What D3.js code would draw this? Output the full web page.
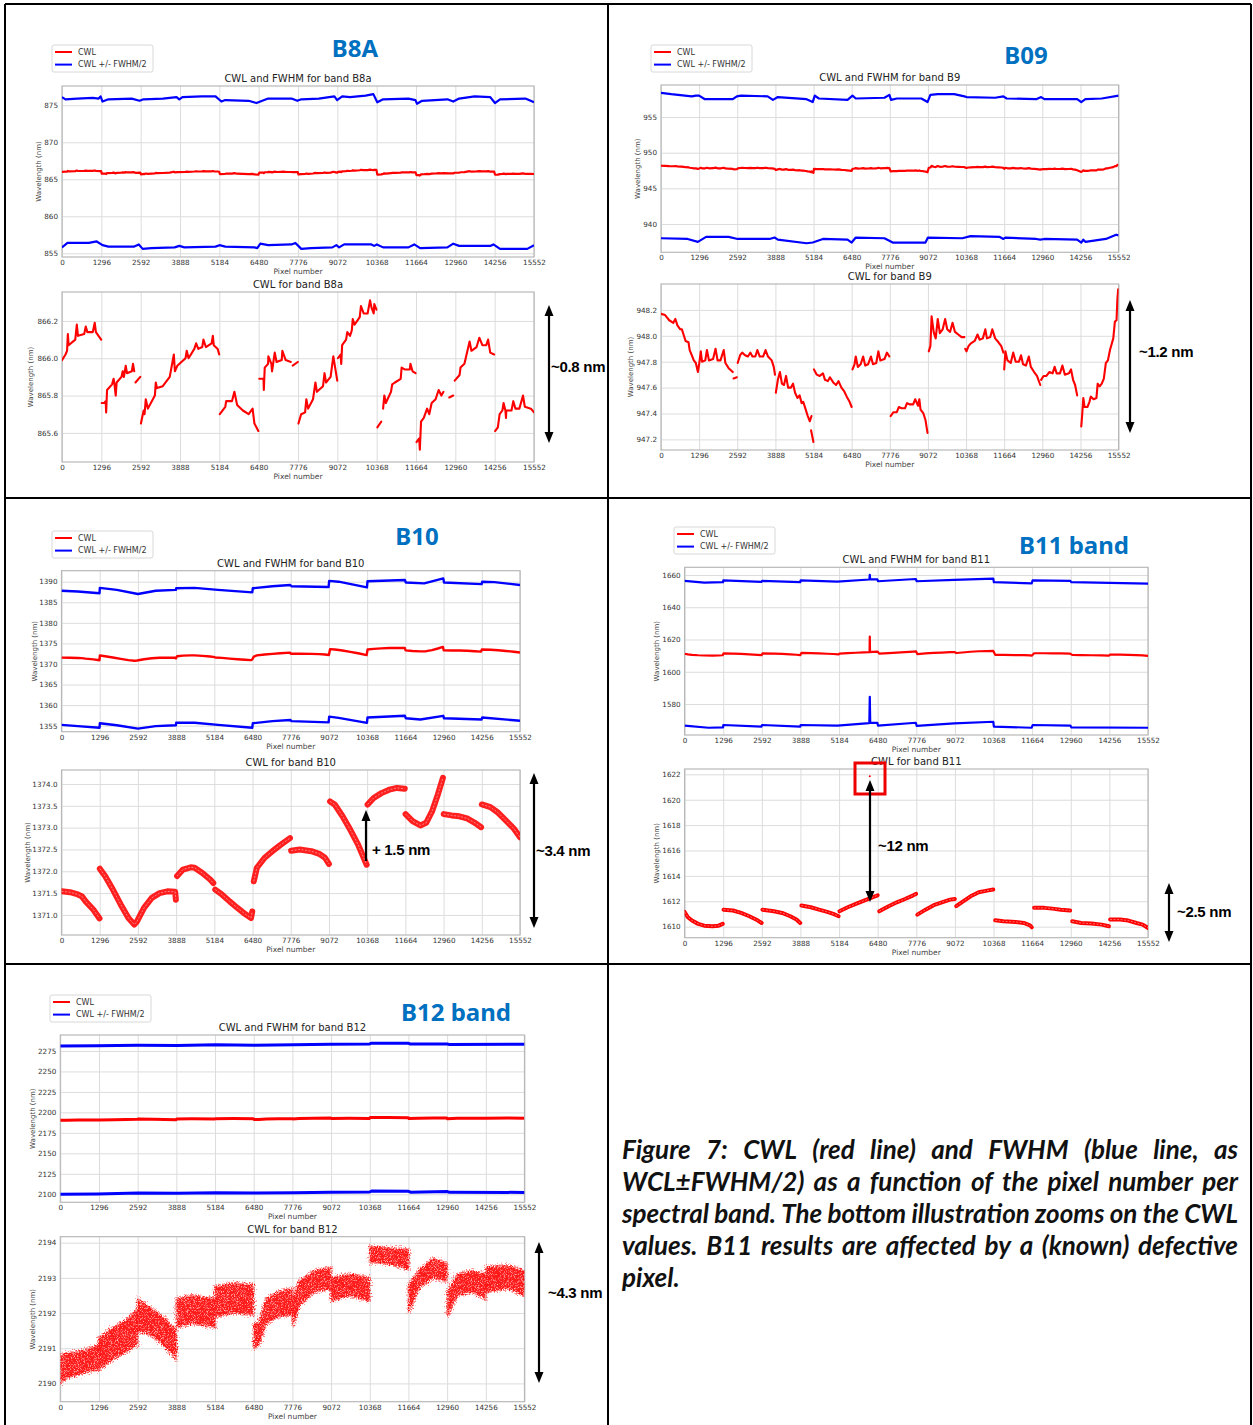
<!DOCTYPE html>
<html>
<head>
<meta charset="utf-8">
<script src="https://cdnjs.cloudflare.com/ajax/libs/d3/7.8.5/d3.min.js"></script>
<style>
  body { margin: 0; background: #fff; }
</style>
</head>
<body>
<svg id="fig" width="1253" height="1425"></svg>
<script>
// ---------- data ----------
const pixelTicks = d3.range(0, 15553, 1296);

// B8A
const b8aTopTicks = [855, 860, 865, 870, 875];
const b8aZoomTicks = [865.6, 865.8, 866.0, 866.2];
const b8aUpper = [[0,876.1],[116,875.8],[501,875.9],[1014,876.0],[1207,875.9],[1271,876.2],[1335,875.5],[1528,875.8],[2298,875.9],[2555,875.6],[2684,875.8],[3326,875.9],[3775,876.1],[3865,875.8],[3968,876.1],[4610,876.2],[5059,876.2],[5252,875.5],[5380,875.7],[6150,875.6],[6407,875.3],[6600,875.6],[6792,875.9],[7563,875.9],[7755,875.6],[7884,875.8],[8462,875.9],[8975,876.2],[9065,875.7],[9232,876.2],[9489,876.1],[10002,876.3],[10259,876.5],[10388,875.4],[10580,875.8],[11415,875.9],[11646,875.7],[11697,875.2],[11864,875.6],[12699,875.8],[12891,875.5],[13084,875.9],[13598,876.2],[14111,876.1],[14265,875.3],[14432,875.8],[15267,875.9],[15552,875.4]];
const b8aLower = [[0,855.8],[180,856.4],[886,856.4],[1143,856.6],[1335,856.1],[1528,855.9],[2363,855.9],[2530,856.2],[2658,855.6],[2940,855.7],[3711,855.8],[3865,856.0],[4032,855.8],[5059,855.9],[5187,856.1],[5380,855.9],[6343,855.8],[6433,855.7],[6536,856.3],[6792,856.1],[7563,856.2],[7691,856.4],[7884,855.6],[8205,855.7],[8911,855.8],[9039,856.1],[9129,855.8],[9296,856.2],[10195,856.2],[10285,856.0],[10375,856.2],[10580,855.8],[11415,855.8],[11607,856.2],[11800,855.7],[12699,855.8],[12891,856.3],[13084,856.0],[14111,856.0],[14214,856.2],[14432,855.6],[15331,855.6],[15552,856.1]];
const b8aCwl = [
  [[0,865.99],[116,866.02],[167,866.04],[193,866.13],[218,866.07],[437,866.10],[488,866.18],[526,866.12],[732,866.13],[783,866.17],[835,866.14],[1014,866.14],[1079,866.19],[1117,866.14],[1290,866.10]],
  [[1310,865.76],[1390,865.76],[1440,865.77],[1455,865.71],[1470,865.77],[1485,865.83],[1650,865.86],[1700,865.89],[1730,865.86],[1770,865.80],[1800,865.87],[1960,865.90],[2000,865.93],[2040,865.90],[2100,865.96],[2140,865.92],[2300,865.93],[2340,865.97],[2380,865.93]],
  [[2420,865.87],[2580,865.90]],
  [[2600,865.65],[2690,865.72],[2720,865.70],[2760,865.78],[2830,865.73],[3060,865.80],[3090,865.87],[3130,865.84],[3320,865.85],[3550,865.90],[3685,866.02],[3720,865.93],[3800,865.96],[4070,866.00],[4110,866.04],[4170,866.00],[4360,866.05],[4420,866.08],[4490,866.05],[4620,866.06],[4660,866.10],[4740,866.06],[4930,866.08],[4970,866.12],[5000,866.07],[5130,866.05],[5180,866.02]],
  [[5200,865.70],[5380,865.74],[5410,865.77],[5600,865.77],[5680,865.82],[5770,865.75],[5960,865.72],[6150,865.70],[6280,865.73],[6340,865.65],[6470,865.61]],
  [[6500,865.89],[6640,865.89],[6650,865.83],[6680,865.95],[6790,865.97],[6800,866.01],[6900,865.97],[6920,865.93],[7010,866.03],[7070,865.98],[7240,865.99],[7260,866.04],[7370,865.99],[7540,865.98]],
  [[7600,865.96],[7770,865.98]],
  [[7790,865.65],[7880,865.70],[8010,865.71],[8050,865.78],[8110,865.73],[8270,865.78],[8350,865.87],[8400,865.82],[8600,865.85],[8650,865.92],[8700,865.87],[8850,865.90],[8940,866.01],[9020,865.93],[9070,865.88]],
  [[9090,866.00],[9180,866.02],[9200,865.97],[9230,866.07],[9360,866.10],[9400,866.14],[9490,866.12],[9550,866.15],[9580,866.21],[9640,866.18],[9810,866.22],[9850,866.28],[9940,866.24],[10070,866.24],[10150,866.31],[10200,866.27],[10270,866.24],[10290,866.29],[10360,866.26]],
  [[10390,865.63],[10520,865.66]],
  [[10580,865.73],[10620,865.80],[10670,865.76],[10840,865.82],[10880,865.86],[10970,865.87],[11160,865.89],[11190,865.95],[11290,865.94],[11460,865.94],[11480,865.97],[11550,865.93],[11650,865.92]],
  [[11680,865.55],[11770,865.57],[11790,865.51],[11830,865.66],[11920,865.68],[12030,865.73],[12100,865.70],[12180,865.76],[12310,865.78],[12410,865.83],[12500,865.80],[12570,865.82]],
  [[12760,865.79],[12890,865.80]],
  [[12940,865.88],[13100,865.91],[13130,865.95],[13260,865.97],[13430,866.09],[13490,866.04],[13660,866.06],[13750,866.11],[13850,866.07],[13980,866.07],[14040,866.10],[14110,866.03],[14240,866.02]],
  [[14270,865.61],[14360,865.63],[14420,865.70],[14510,865.72],[14550,865.76],[14610,865.72],[14630,865.68],[14640,865.72],[14810,865.72],[14870,865.77],[14940,865.73],[15070,865.73],[15190,865.80],[15250,865.74],[15450,865.73],[15552,865.71]]
];

// B09
const b09TopTicks = [940, 945, 950, 955];
const b09ZoomTicks = [947.2, 947.4, 947.6, 947.8, 948.0, 948.2];
const b09Upper = [[0,958.4],[348,958.2],[1045,957.9],[1184,958.0],[1296,958.0],[1491,957.5],[2439,957.5],[2578,957.9],[2717,958.0],[3623,957.9],[3804,957.4],[3971,957.8],[4947,957.5],[5156,957.1],[5226,958.0],[5365,957.6],[6340,957.4],[6508,958.0],[6619,957.6],[7595,957.7],[7762,958.1],[7818,957.4],[8013,957.6],[8849,957.6],[9058,957.1],[9155,958.1],[9406,958.2],[9963,958.2],[10312,957.9],[10382,957.8],[11357,957.7],[11636,957.9],[11747,957.6],[12751,957.5],[12918,957.8],[13029,957.5],[14144,957.5],[14283,957.1],[14423,957.5],[14980,957.6],[15552,958.0]];
const b09Lower = [[0,938.0],[906,937.9],[1254,937.5],[1533,938.2],[2299,938.2],[2606,937.9],[3693,937.9],[3860,938.1],[3971,937.8],[4947,937.3],[5156,937.4],[5504,937.9],[6340,937.8],[6480,937.4],[6619,938.1],[7595,938.0],[7873,937.4],[8988,937.4],[9072,938.1],[10242,938.0],[10521,938.3],[11496,938.2],[11636,937.9],[11705,938.1],[12751,937.9],[12890,937.8],[13029,937.9],[14144,937.8],[14283,937.4],[14353,937.8],[14423,937.5],[15120,937.9],[15468,938.5],[15552,938.4]];
const b09Cwl = [
  [[0,948.17],[139,948.16],[279,948.12],[418,948.10],[488,948.13],[557,948.08],[655,948.05],[711,948.05],[766,948.01],[836,947.96],[934,947.95],[975,947.89],[1045,947.85],[1115,947.81],[1184,947.79],[1254,947.72],[1296,947.78],[1352,947.88],[1394,947.80],[1505,947.81],[1561,947.89],[1630,947.81],[1770,947.82],[1853,947.90],[1923,947.81],[2021,947.81],[2132,947.89],[2188,947.79],[2299,947.75],[2439,947.72]],
  [[2467,947.67],[2578,947.68]],
  [[2606,947.79],[2689,947.85],[2759,947.87],[2857,947.85],[2954,947.84],[3038,947.87],[3108,947.84],[3205,947.84],[3275,947.89],[3358,947.84],[3470,947.84],[3553,947.89],[3637,947.84],[3762,947.81],[3832,947.76],[3874,947.70]],
  [[3902,947.56],[3971,947.66],[4041,947.72],[4111,947.63],[4180,947.62],[4250,947.69],[4320,947.60],[4417,947.60],[4487,947.63],[4557,947.56],[4640,947.52],[4710,947.54],[4780,947.48],[4835,947.49],[4919,947.43],[4989,947.38],[5058,947.34],[5114,947.38]],
  [[5100,947.27],[5180,947.18]],
  [[5198,947.74],[5295,947.70],[5393,947.69],[5504,947.71],[5574,947.66],[5672,947.65],[5741,947.68],[5853,947.64],[5950,947.62],[6034,947.65],[6131,947.60],[6229,947.57],[6313,947.53],[6410,947.49],[6480,947.45]],
  [[6508,947.74],[6577,947.78],[6619,947.84],[6689,947.76],[6786,947.78],[6870,947.84],[6940,947.77],[7037,947.78],[7135,947.84],[7204,947.78],[7316,947.79],[7386,947.88],[7455,947.81],[7595,947.82],[7678,947.87],[7762,947.84]],
  [[7804,947.38],[7901,947.41],[8013,947.41],[8082,947.45],[8180,947.44],[8291,947.44],[8361,947.48],[8459,947.47],[8570,947.47],[8640,947.51],[8737,947.46],[8779,947.51],[8821,947.43],[8918,947.40],[8988,947.35],[9058,947.25]],
  [[9100,947.88],[9155,947.92],[9197,948.15],[9267,948.03],[9336,947.98],[9406,948.13],[9476,948.02],[9573,948.05],[9657,948.13],[9727,948.05],[9824,948.03],[9908,948.10],[9991,948.03],[10103,948.01],[10214,947.99],[10312,947.99]],
  [[10340,947.90],[10382,947.88],[10451,947.92],[10521,947.94],[10660,947.96],[10758,948.01],[10827,947.97],[10939,947.98],[11023,948.05],[11078,947.98],[11190,947.99],[11260,948.05],[11357,947.98],[11469,947.95],[11566,947.92],[11636,947.87]],
  [[11664,947.74],[11705,947.88],[11775,947.81],[11886,947.79],[11970,947.87],[12054,947.80],[12165,947.80],[12235,947.85],[12305,947.78],[12402,947.77],[12500,947.84],[12569,947.76],[12681,947.72],[12778,947.69],[12890,947.62]],
  [[12918,947.66],[13001,947.69],[13099,947.69],[13196,947.72],[13308,947.71],[13378,947.76],[13447,947.71],[13559,947.71],[13642,947.77],[13726,947.70],[13865,947.71],[13935,947.74],[14005,947.66],[14074,947.62],[14144,947.54]],
  [[14283,947.30],[14311,947.38],[14353,947.52],[14395,947.45],[14492,947.45],[14562,947.49],[14604,947.53],[14702,947.51],[14799,947.52],[14841,947.63],[14910,947.61],[14980,947.63],[15050,947.67],[15119,947.79],[15189,947.81],[15259,947.89],[15371,947.98],[15426,948.11],[15482,948.12],[15510,948.28],[15538,948.36]]
];

// B10
const b10TopTicks = [1355, 1360, 1365, 1370, 1375, 1380, 1385, 1390];
const b10ZoomTicks = [1371.0, 1371.5, 1372.0, 1372.5, 1373.0, 1373.5, 1374.0];
const b10Upper = [[0,1387.8],[554,1387.6],[1290,1387.2],[1300,1388.5],[1875,1388.0],[2592,1387.0],[3195,1387.8],[3880,1388.0],[3890,1388.4],[4515,1388.5],[5307,1388.0],[6470,1387.4],[6490,1388.4],[7155,1388.9],[7760,1389.2],[7800,1388.9],[9060,1388.7],[9080,1390.2],[9400,1390.0],[10360,1388.6],[10380,1390.1],[11650,1390.4],[11680,1389.8],[12304,1389.6],[12950,1390.8],[12975,1389.8],[14250,1389.4],[14270,1390.0],[14681,1389.9],[15552,1389.2]];
const b10Lower = [[0,1355.2],[554,1354.9],[1290,1354.5],[1300,1355.6],[1875,1355.1],[2592,1354.3],[3195,1354.9],[3880,1355.1],[3890,1355.7],[4515,1355.7],[5307,1355.2],[6470,1354.5],[6490,1355.6],[7155,1356.1],[7760,1356.4],[7800,1356.1],[9060,1355.8],[9080,1357.2],[9400,1356.9],[10360,1355.7],[10380,1357.0],[11650,1357.4],[11680,1356.8],[12172,1356.5],[12950,1357.4],[12975,1356.8],[14250,1356.5],[14270,1357.0],[15552,1356.2]];
const b10Cwl = [
  [[0,1371.54],[290,1371.52],[554,1371.47],[686,1371.43],[818,1371.31],[1083,1371.12],[1290,1370.92]],
  [[1300,1372.06],[1479,1371.89],[1743,1371.58],[2007,1371.24],[2271,1370.93],[2469,1370.78],[2561,1370.85],[2799,1371.16],[3063,1371.39],[3327,1371.50],[3591,1371.54],[3855,1371.53],[3880,1371.35]],
  [[3921,1371.89],[4119,1372.04],[4383,1372.09],[4515,1372.08],[4779,1371.96],[5043,1371.81],[5149,1371.73]],
  [[5215,1371.58],[5439,1371.47],[5703,1371.31],[5967,1371.16],[6231,1371.02],[6429,1370.93],[6470,1371.08]],
  [[6522,1371.77],[6627,1372.08],[6891,1372.31],[7155,1372.46],[7419,1372.60],[7749,1372.76]],
  [[7789,1372.47],[8080,1372.50],[8476,1372.46],[8740,1372.40],[8938,1372.31],[9070,1372.17]],
  [[9109,1373.60],[9268,1373.53],[9532,1373.26],[9796,1372.95],[10060,1372.61],[10350,1372.15]],
  [[10383,1373.53],[10588,1373.68],[10852,1373.79],[11116,1373.87],[11380,1373.91],[11644,1373.89]],
  [[11671,1373.31],[11908,1373.15],[12172,1373.05],[12370,1373.11],[12568,1373.37],[12766,1373.76],[12938,1374.14]],
  [[12964,1373.31],[13229,1373.28],[13493,1373.26],[13757,1373.21],[14021,1373.11],[14232,1373.01]],
  [[14258,1373.53],[14549,1373.47],[14813,1373.34],[15077,1373.16],[15341,1372.98],[15552,1372.78]]
];

// B11
const b11TopTicks = [1580, 1600, 1620, 1640, 1660];
const b11ZoomTicks = [1610, 1612, 1614, 1616, 1618, 1620, 1622];
const b11Upper = [[0,1656.3],[660,1655.2],[1290,1655.5],[1300,1656.7],[2580,1655.7],[2600,1656.3],[3880,1655.5],[3895,1656.7],[5129,1655.9],[6200,1657.2],[6215,1660.0],[6230,1657.3],[6470,1657.3],[6490,1656.1],[7760,1657.5],[7790,1656.1],[9048,1656.9],[10360,1657.7],[10380,1655.5],[11650,1654.8],[11680,1656.7],[12950,1656.3],[12975,1655.5],[15552,1654.6]];
const b11Lower = [[0,1566.6],[800,1565.3],[1290,1565.5],[1300,1567.0],[2580,1566.0],[2600,1567.0],[3880,1566.0],[3895,1567.0],[5129,1566.6],[6200,1568.2],[6215,1584.5],[6230,1568.3],[6470,1568.4],[6490,1566.6],[7760,1568.4],[7790,1566.4],[9048,1568.0],[10360,1569.0],[10380,1566.0],[11650,1565.3],[11680,1567.0],[12950,1566.6],[12975,1565.5],[15552,1565.3]];
const b11Cwl = [
  [[0,1611.16],[110,1610.74],[248,1610.48],[454,1610.22],[660,1610.08],[935,1610.03],[1141,1610.08],[1279,1610.22]],
  [[1306,1611.34],[1623,1611.27],[1898,1611.08],[2173,1610.82],[2448,1610.50],[2585,1610.29]],
  [[2613,1611.34],[2998,1611.21],[3273,1611.08],[3548,1610.82],[3754,1610.56],[3880,1610.29]],
  [[3919,1611.66],[4235,1611.53],[4510,1611.34],[4785,1611.16],[4991,1611.00],[5170,1610.82]],
  [[5198,1611.21],[5473,1611.53],[5748,1611.79],[6023,1612.05],[6298,1612.31],[6480,1612.47]],
  [[6531,1611.21],[6848,1611.61],[7123,1611.92],[7398,1612.18],[7673,1612.47],[7770,1612.58]],
  [[7810,1610.95],[8085,1611.34],[8360,1611.69],[8635,1611.92],[8910,1612.13],[9070,1612.18]],
  [[9116,1611.61],[9323,1611.95],[9598,1612.39],[9873,1612.71],[10148,1612.84],[10360,1612.92]],
  [[10423,1610.50],[10698,1610.42],[11110,1610.37],[11385,1610.29],[11591,1610.11],[11650,1609.95]],
  [[11729,1611.48],[12073,1611.48],[12348,1611.42],[12623,1611.34],[12940,1611.27]],
  [[13008,1610.42],[13310,1610.29],[13654,1610.24],[13998,1610.16],[14240,1610.03]],
  [[14280,1610.56],[14616,1610.56],[14891,1610.48],[15166,1610.29],[15373,1610.16],[15552,1609.90]]
];
const b11Defect = [6215, 1621.84];

// B12 (zoomed CWL given as [pixel, low, high] of the point cloud)
const b12TopTicks = [2100, 2125, 2150, 2175, 2200, 2225, 2250, 2275];
const b12ZoomTicks = [2190, 2191, 2192, 2193, 2194];
const b12Upper = [[0,2281.0],[1238,2281.3],[2607,2282.0],[3911,2281.8],[5214,2282.5],[6518,2282.0],[7822,2282.6],[9060,2283.2],[10364,2283.6],[10429,2284.5],[11667,2284.3],[11732,2283.4],[12971,2283.5],[13036,2282.8],[15552,2283.2]];
const b12Lower = [[0,2100.0],[1238,2100.2],[2607,2101.5],[3911,2101.2],[5214,2102.0],[6518,2101.6],[7822,2102.0],[9060,2102.6],[10364,2102.8],[10429,2104.0],[11667,2103.6],[11732,2102.5],[12971,2103.3],[13036,2102.4],[15552,2102.3]];
const b12Cwl = [
  [[0,2190.0,2190.8],[200,2190.15,2190.85],[600,2190.25,2190.9],[1000,2190.35,2191.0],[1290,2190.4,2191.1]],
  [[1300,2190.4,2191.3],[1800,2190.7,2191.6],[2200,2190.9,2191.8],[2580,2191.1,2192.1]],
  [[2600,2191.5,2192.4],[3100,2191.35,2192.1],[3500,2191.05,2191.85],[3880,2190.7,2191.5]],
  [[3900,2191.6,2192.4],[4400,2191.7,2192.5],[5180,2191.6,2192.4]],
  [[5190,2191.9,2192.75],[5800,2192.0,2192.85],[6470,2191.95,2192.8]],
  [[6490,2191.0,2191.7],[6650,2191.1,2191.7],[6900,2191.7,2192.4],[7300,2191.9,2192.6],[7770,2191.95,2192.7]],
  [[7790,2191.6,2192.4],[8000,2192.2,2192.9],[8500,2192.6,2193.2],[9060,2192.7,2193.3]],
  [[9080,2192.35,2193.0],[9700,2192.5,2193.1],[10360,2192.35,2193.0]],
  [[10380,2193.45,2193.9],[11000,2193.4,2193.85],[11660,2193.25,2193.8]],
  [[11680,2192.0,2192.8],[12000,2192.7,2193.2],[12500,2193.0,2193.55],[12950,2192.9,2193.4]],
  [[12970,2191.9,2192.6],[13300,2192.5,2193.1],[13800,2192.6,2193.2],[14250,2192.4,2193.1]],
  [[14260,2192.6,2193.3],[15000,2192.7,2193.35],[15540,2192.5,2193.2]]
];

const captionLines = [
  "Figure 7: CWL (red line) and FWHM (blue line, as",
  "WCL\u00b1FWHM/2) as a function of the pixel number per",
  "spectral band. The bottom illustration zooms on the CWL",
  "values. B11 results are affected by a (known) defective",
  "pixel."
];

// ---------- drawing ----------
const svg = d3.select("#fig");
const MPL = "DejaVu Sans, sans-serif";
svg.append("rect").attr("width", 1253).attr("height", 1425).attr("fill", "#fff");

// speckled, ragged look for the B12 point cloud
const defs = svg.append("defs");
const fz = defs.append("filter").attr("id", "speckle")
  .attr("x", "-3%").attr("y", "-15%").attr("width", "106%").attr("height", "130%");
fz.append("feTurbulence").attr("type", "fractalNoise").attr("baseFrequency", 0.75)
  .attr("numOctaves", 1).attr("seed", 2).attr("result", "noise");
fz.append("feDisplacementMap").attr("in", "SourceGraphic").attr("in2", "noise").attr("scale", 9)
  .attr("xChannelSelector", "R").attr("yChannelSelector", "G").attr("result", "disp");
fz.append("feTurbulence").attr("type", "fractalNoise").attr("baseFrequency", 1.3)
  .attr("numOctaves", 1).attr("seed", 7).attr("result", "n2");
fz.append("feColorMatrix").attr("in", "n2").attr("type", "matrix")
  .attr("values", "0 0 0 0 0  0 0 0 0 0  0 0 0 0 0  0 0 0 -2.6 2.3").attr("result", "mask");
fz.append("feComposite").attr("in", "disp").attr("in2", "mask").attr("operator", "in");

function axesBox(box, domain, ticks, fmt, title, yLabelX) {
  const [x0, x1, y0, y1] = box;
  const x = d3.scaleLinear().domain([0, 15552]).range([x0, x1]);
  const y = d3.scaleLinear().domain(domain).range([y1, y0]);
  const g = svg.append("g");

  g.append("g").attr("transform", `translate(0,${y1})`)
    .call(d3.axisBottom(x).tickValues(pixelTicks).tickFormat(d3.format("d")).tickSize(-(y1 - y0)).tickPadding(3))
    .call(a => a.select(".domain").remove())
    .call(a => a.selectAll("line").attr("stroke", "#dcdcdc"))
    .call(a => a.selectAll("text").attr("font-size", 7.2).attr("fill", "#333").attr("font-family", MPL));

  g.append("g").attr("transform", `translate(${x0},0)`)
    .call(d3.axisLeft(y).tickValues(ticks).tickFormat(d3.format(fmt)).tickSize(-(x1 - x0)).tickPadding(4))
    .call(a => a.select(".domain").remove())
    .call(a => a.selectAll("line").attr("stroke", "#dcdcdc"))
    .call(a => a.selectAll("text").attr("font-size", 7.2).attr("fill", "#333").attr("font-family", MPL));

  g.append("rect").attr("x", x0).attr("y", y0).attr("width", x1 - x0).attr("height", y1 - y0)
    .attr("fill", "none").attr("stroke", "#b8b8b8").attr("stroke-width", 1.2);

  g.append("text").attr("x", (x0 + x1) / 2).attr("y", y0 - 4)
    .attr("text-anchor", "middle").attr("font-family", MPL).attr("font-size", 10).attr("fill", "#222")
    .text(title);
  g.append("text").attr("x", (x0 + x1) / 2).attr("y", y1 + 17)
    .attr("text-anchor", "middle").attr("font-family", MPL).attr("font-size", 7.5).attr("fill", "#444")
    .text("Pixel number");
  g.append("text")
    .attr("transform", `translate(${yLabelX},${(y0 + y1) / 2}) rotate(-90)`)
    .attr("text-anchor", "middle").attr("dominant-baseline", "middle")
    .attr("font-family", MPL).attr("font-size", 7).attr("fill", "#444")
    .text("Wavelength (nm)");

  const clipId = "clip" + Math.round(x0) + "_" + Math.round(y0);
  svg.append("clipPath").attr("id", clipId).append("rect")
    .attr("x", x0).attr("y", y0 - 2).attr("width", x1 - x0).attr("height", y1 - y0 + 4);
  const plot = g.append("g").attr("clip-path", `url(#${clipId})`);
  return { x, y, plot };
}

function legend(lx, ly) {
  const g = svg.append("g");
  g.append("rect").attr("x", lx).attr("y", ly).attr("width", 101).attr("height", 27).attr("rx", 2)
    .attr("fill", "#fff").attr("stroke", "#d8d8d8");
  [["red", "CWL"], ["blue", "CWL +/- FWHM/2"]].forEach(([c, t], i) => {
    const yy = ly + 7 + i * 12.6;
    g.append("line").attr("x1", lx + 3).attr("x2", lx + 20).attr("y1", yy).attr("y2", yy)
      .attr("stroke", c).attr("stroke-width", 2);
    g.append("text").attr("x", lx + 26).attr("y", yy).attr("dominant-baseline", "middle")
      .attr("font-family", MPL).attr("font-size", 8).attr("fill", "#333").text(t);
  });
}

function heading(text, hx, hy) {
  svg.append("text").attr("x", hx).attr("y", hy).attr("text-anchor", "middle")
    .attr("dominant-baseline", "middle").attr("font-family", "Noto Sans, sans-serif")
    .attr("font-weight", "bold").attr("font-size", 24).attr("fill", "#0070c0").text(text);
}

function arrow(ax, yTop, yBot, headTop, headBot) {
  const g = svg.append("g").attr("fill", "#000");
  g.append("line").attr("x1", ax).attr("x2", ax)
    .attr("y1", yTop + (headTop ? 8 : 0)).attr("y2", yBot - (headBot ? 8 : 0))
    .attr("stroke", "#000").attr("stroke-width", 2.2);
  if (headTop) g.append("path").attr("d", `M${ax},${yTop} L${ax - 4.5},${yTop + 11} L${ax + 4.5},${yTop + 11} Z`);
  if (headBot) g.append("path").attr("d", `M${ax},${yBot} L${ax - 4.5},${yBot - 11} L${ax + 4.5},${yBot - 11} Z`);
}

function note(text, nx, ny, size) {
  svg.append("text").attr("x", nx).attr("y", ny).attr("dominant-baseline", "middle")
    .attr("font-family", "Liberation Sans, Arial, sans-serif").attr("font-weight", "bold")
    .attr("font-size", size || 15).attr("fill", "#000").attr("letter-spacing", -0.3).text(text);
}

const flatSorted = segs => segs.flat().slice().sort((a, b) => a[0] - b[0]);

function drawBand(p) {
  const top = axesBox(p.topBox, p.topDomain, p.topTicks, "d", p.topTitle, p.topLabelX);
  const line = d3.line().x(d => top.x(d[0])).y(d => top.y(d[1]));
  top.plot.append("path").datum(p.upper).attr("d", line).attr("fill", "none")
    .attr("stroke", "blue").attr("stroke-width", p.topWidth).attr("stroke-linejoin", "round");
  top.plot.append("path").datum(p.lower).attr("d", line).attr("fill", "none")
    .attr("stroke", "blue").attr("stroke-width", p.topWidth).attr("stroke-linejoin", "round");
  top.plot.append("path").datum(p.cwlTop).attr("d", line).attr("fill", "none")
    .attr("stroke", "red").attr("stroke-width", p.topWidth).attr("stroke-linejoin", "round");

  const bot = axesBox(p.botBox, p.botDomain, p.botTicks, p.botFmt, p.botTitle, p.botLabelX);
  if (p.cloud) {
    const area = d3.area().x(d => bot.x(d[0])).y0(d => bot.y(d[1])).y1(d => bot.y(d[2]));
    bot.plot.append("g").attr("filter", "url(#speckle)")
      .selectAll("path").data(p.cwl).join("path")
      .attr("d", area).attr("fill", "#ff1010").attr("fill-opacity", 0.95)
      .attr("stroke", "#ff1010").attr("stroke-opacity", 0.5).attr("stroke-width", 3);
  } else {
    const bline = d3.line().x(d => bot.x(d[0])).y(d => bot.y(d[1]));
    bot.plot.selectAll("path.cwl").data(p.cwl).join("path").attr("class", "cwl")
      .attr("d", bline).attr("fill", "none").attr("stroke", "red")
      .attr("stroke-width", p.botWidth).attr("stroke-opacity", p.botOpacity || 1)
      .attr("stroke-linejoin", "round").attr("stroke-linecap", "round");
    if (p.textured) {
      // thin light streak inside the wide band, like the rows of markers in the original
      bot.plot.selectAll("path.streak").data(p.cwl).join("path").attr("class", "streak")
        .attr("d", bline).attr("fill", "none").attr("stroke", "#fff")
        .attr("stroke-width", 0.8).attr("stroke-opacity", 0.55).attr("stroke-dasharray", "2 1.5");
    }
  }
  return bot;
}

// B8A
drawBand({
  topBox: [62, 534, 86, 257], topDomain: [854.5, 877.6], topTicks: b8aTopTicks,
  topTitle: "CWL and FWHM for band B8a", topLabelX: 39, topWidth: 2.2,
  upper: b8aUpper, lower: b8aLower, cwlTop: flatSorted(b8aCwl),
  botBox: [62, 534, 292, 462], botDomain: [865.444, 866.355], botTicks: b8aZoomTicks, botFmt: ".1f",
  botTitle: "CWL for band B8a", botLabelX: 31, cwl: b8aCwl, botWidth: 2.1
});
legend(52, 45);
heading("B8A", 355, 50);
arrow(549, 305, 443, true, true);
note("~0.8 nm", 551, 368);

// B09
drawBand({
  topBox: [661, 1118.6, 85, 252.3], topDomain: [936.03, 959.49], topTicks: b09TopTicks,
  topTitle: "CWL and FWHM for band B9", topLabelX: 638, topWidth: 2.2,
  upper: b09Upper, lower: b09Lower, cwlTop: flatSorted(b09Cwl),
  botBox: [661, 1118.6, 284, 450], botDomain: [947.118, 948.40], botTicks: b09ZoomTicks, botFmt: ".1f",
  botTitle: "CWL for band B9", botLabelX: 631, cwl: b09Cwl, botWidth: 2.1
});
legend(651, 45);
heading("B09", 1026, 57);
arrow(1130, 300, 433, true, true);
note("~1.2 nm", 1139, 353);

// B10
drawBand({
  topBox: [61.5, 520, 570.7, 731.7], topDomain: [1353.54, 1392.67], topTicks: b10TopTicks,
  topTitle: "CWL and FWHM for band B10", topLabelX: 35, topWidth: 2.4,
  upper: b10Upper, lower: b10Lower, cwlTop: flatSorted(b10Cwl),
  botBox: [61.5, 520, 770, 935], botDomain: [1370.54, 1374.32], botTicks: b10ZoomTicks, botFmt: ".1f",
  botTitle: "CWL for band B10", botLabelX: 28, cwl: b10Cwl, botWidth: 6, botOpacity: 0.88, textured: true
});
legend(52, 531);
heading("B10", 417, 538);
arrow(366, 810, 861, true, false);
note("+ 1.5 nm", 372, 851);
arrow(534, 773, 928, true, true);
note("~3.4 nm", 536, 852);

// B11
const b11Top = flatSorted(b11Cwl).concat([[b11Defect[0] - 8, 1612.2], b11Defect, [b11Defect[0] + 8, 1612.2]])
  .sort((a, b) => a[0] - b[0]);
const b11Bot = drawBand({
  topBox: [684.6, 1148, 567.3, 735], topDomain: [1560.8, 1664.75], topTicks: b11TopTicks,
  topTitle: "CWL and FWHM for band B11", topLabelX: 657, topWidth: 2.2,
  upper: b11Upper, lower: b11Lower, cwlTop: b11Top,
  botBox: [684.6, 1148, 769, 937.7], botDomain: [1609.13, 1622.42], botTicks: b11ZoomTicks, botFmt: "d",
  botTitle: "CWL for band B11", botLabelX: 657, cwl: b11Cwl, botWidth: 4, textured: true
});
b11Bot.plot.append("circle").attr("cx", b11Bot.x(b11Defect[0])).attr("cy", b11Bot.y(b11Defect[1]))
  .attr("r", 1).attr("fill", "red");
legend(674, 527);
heading("B11 band", 1074, 547);
svg.append("rect").attr("x", 855).attr("y", 763).attr("width", 30).attr("height", 31)
  .attr("fill", "none").attr("stroke", "#e00").attr("stroke-width", 3);
arrow(870, 780, 902, true, true);
note("~12 nm", 878, 847);
arrow(1169, 883, 942, true, true);
note("~2.5 nm", 1177, 913);

// B12
drawBand({
  topBox: [60.3, 524.5, 1035, 1202.3], topDomain: [2090.2, 2294.5], topTicks: b12TopTicks,
  topTitle: "CWL and FWHM for band B12", topLabelX: 33, topWidth: 3,
  upper: b12Upper, lower: b12Lower, cwlTop: flatSorted(b12Cwl).map(d => [d[0], (d[1] + d[2]) / 2]),
  botBox: [60.3, 524.5, 1236.7, 1401.7], botDomain: [2189.48, 2194.17], botTicks: b12ZoomTicks, botFmt: "d",
  botTitle: "CWL for band B12", botLabelX: 33, cwl: b12Cwl, cloud: true
});
legend(50, 995);
heading("B12 band", 456, 1014);
arrow(539, 1242, 1383, true, true);
note("~4.3 nm", 548, 1294);

// caption, justified word by word; font size fitted so the tightest line keeps normal spacing
const capX0 = 622, capX1 = 1238;
const capG = svg.append("g").attr("font-family", "Lato, Open Sans, sans-serif").attr("font-weight", "bold")
  .attr("font-style", "italic").attr("fill", "#111");
const probe = capG.append("text").attr("font-size", 20).text(captionLines[2].replace(/ /g, ""));
const capSize = 20 * (capX1 - capX0 - 8 * 5.5) / probe.node().getComputedTextLength();
probe.remove();
capG.attr("font-size", capSize);
captionLines.forEach((txt, i) => {
  const words = txt.split(" ");
  const yy = 1159 + i * 32;
  const nodes = words.map(w => capG.append("text").attr("y", yy).text(w));
  const widths = nodes.map(n => n.node().getComputedTextLength());
  const total = d3.sum(widths);
  const last = i === captionLines.length - 1;
  const gap = last ? 5 : (capX1 - capX0 - total) / (words.length - 1);
  let cx = capX0;
  nodes.forEach((n, k) => { n.attr("x", cx); cx += widths[k] + gap; });
});

// table grid
const grid = svg.append("g").attr("stroke", "#000").attr("stroke-width", 2);
[[5, 4, 5, 1425], [608, 4, 608, 1425], [1251, 4, 1251, 1425],
 [5, 4, 1251, 4], [5, 498, 1251, 498], [5, 964, 1251, 964]].forEach(([a, b, c, d]) =>
  grid.append("line").attr("x1", a).attr("y1", b).attr("x2", c).attr("y2", d));
</script>
</body>
</html>
